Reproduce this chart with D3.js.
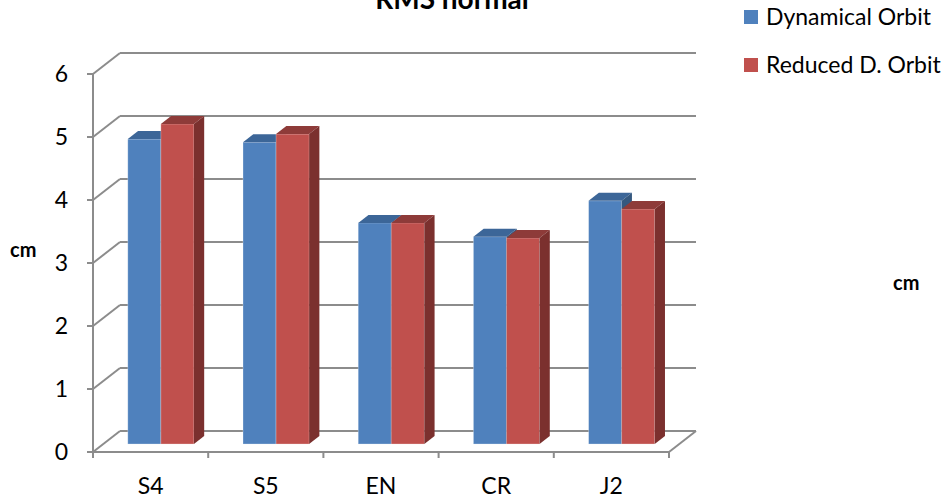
<!DOCTYPE html>
<html>
<head>
<meta charset="utf-8">
<script src="https://cdn.jsdelivr.net/npm/d3@7"></script>
<style>
  body { margin: 0; background: #fff; }
  svg text { font-family: Lato, "Open Sans", sans-serif; fill: #000; }
</style>
</head>
<body>
<svg id="chart" width="951" height="502"></svg>
<script>

// chart data
var categories = ["S4", "S5", "EN", "CR", "J2"];
var seriesNames = ["Dynamical Orbit", "Reduced D. Orbit"];
var dynamicalOrbit = [4.84, 4.79, 3.51, 3.29, 3.86];
var reducedOrbit = [5.08, 4.92, 3.51, 3.27, 3.73];
var yTicks = [0, 1, 2, 3, 4, 5, 6];

var seriesValues = [dynamicalOrbit, reducedOrbit];
var faceColors = [
    {front: "#4F81BD", top: "#3C6698", side: "#35587F"},
    {front: "#C0504D", top: "#8E3B39", side: "#7B302E"}
];

var svg = d3.select("#chart");

// plot box (front plane) and 3d depth vector
var plotLeft = 93, plotRight = 669, plotBottom = 452, plotTop = 74;
var depthX = 27, depthY = -21;
var barFront = 0.38, barBack = 0.76;   // fraction of depth taken by bars

var y = d3.scaleLinear().domain([0, 6]).range([plotBottom, plotTop]);
var x = d3.scaleBand().domain(categories).range([plotLeft, plotRight])
            .paddingInner(0.426).paddingOuter(0.213);
var xs = d3.scaleBand().domain(seriesNames).range([0, x.bandwidth()]);

var gridColor = "#8C8C8C";
var grid = svg.append("g").attr("stroke", gridColor).attr("stroke-width", 2).attr("fill", "none");

// back wall and side wall gridlines
yTicks.forEach(function(t) {
    grid.append("line")
        .attr("x1", plotLeft + depthX).attr("x2", plotRight + depthX)
        .attr("y1", y(t) + depthY).attr("y2", y(t) + depthY);
    grid.append("line")
        .attr("x1", plotLeft).attr("x2", plotLeft + depthX)
        .attr("y1", y(t)).attr("y2", y(t) + depthY);
});
// floor right edge
grid.append("line")
    .attr("x1", plotRight).attr("x2", plotRight + depthX)
    .attr("y1", y(0)).attr("y2", y(0) + depthY);

// bars
var fx = barFront * depthX, fy = barFront * depthY;
var dx = (barBack - barFront) * depthX, dy = (barBack - barFront) * depthY;

var bars = svg.append("g");
categories.forEach(function(c, i) {
    seriesNames.forEach(function(s, j) {
        var v = seriesValues[j][i];
        var x0 = x(c) + xs(s) + fx;
        var x1 = x0 + xs.bandwidth();
        var yb = y(0) + fy;
        var yt = y(v) + fy;
        var col = faceColors[j];
        var g = bars.append("g");
        g.append("rect")
            .attr("x", x0).attr("y", yt)
            .attr("width", x1 - x0).attr("height", yb - yt)
            .attr("fill", col.front)
            .attr("stroke", "rgba(255,255,255,0.35)").attr("stroke-width", 0.8);
        g.append("path")
            .attr("d", "M" + x0 + "," + yt + "L" + (x0 + dx) + "," + (yt + dy) +
                       "L" + (x1 + dx) + "," + (yt + dy) + "L" + x1 + "," + yt + "Z")
            .attr("fill", col.top);
        g.append("path")
            .attr("d", "M" + x1 + "," + yt + "L" + (x1 + dx) + "," + (yt + dy) +
                       "L" + (x1 + dx) + "," + (yb + dy) + "L" + x1 + "," + yb + "Z")
            .attr("fill", col.side);
    });
});

// front axes
var axes = svg.append("g").attr("stroke", gridColor).attr("stroke-width", 2);
axes.append("line").attr("x1", plotLeft).attr("x2", plotLeft).attr("y1", plotTop).attr("y2", plotBottom + 6);
axes.append("line").attr("x1", plotLeft).attr("x2", plotRight).attr("y1", plotBottom).attr("y2", plotBottom);
yTicks.forEach(function(t) {
    axes.append("line").attr("x1", plotLeft - 6).attr("x2", plotLeft).attr("y1", y(t)).attr("y2", y(t));
});
d3.range(categories.length + 1).forEach(function(k) {
    var xx = plotLeft + k * (plotRight - plotLeft) / categories.length;
    axes.append("line").attr("x1", xx).attr("x2", xx).attr("y1", plotBottom).attr("y2", plotBottom + 6);
});

// tick labels
svg.append("g").selectAll("text").data(yTicks).join("text")
    .attr("x", 68).attr("y", function(d) { return y(d) + 8; })
    .attr("text-anchor", "end").style("font-size", "23px")
    .text(function(d) { return d; });

svg.append("g").selectAll("text").data(categories).join("text")
    .attr("x", function(d) { return x(d) + x.bandwidth() / 2; })
    .attr("y", 494)
    .attr("text-anchor", "middle").style("font-size", "23px")
    .text(function(d) { return d; });

// axis titles
svg.append("text").attr("x", 10).attr("y", 257)
    .style("font-size", "20px").style("font-weight", "bold").text("cm");
svg.append("text").attr("x", 893).attr("y", 290)
    .style("font-size", "20px").style("font-weight", "bold").text("cm");

// chart title (cut off at the top, as in the original)
svg.append("text").attr("x", 452).attr("y", 9)
    .attr("text-anchor", "middle")
    .style("font-size", "28px").style("font-weight", "bold").text("RMS normal");

// legend
var legend = svg.append("g");
seriesNames.forEach(function(s, j) {
    legend.append("rect").attr("x", 744).attr("y", 10 + j * 48)
        .attr("width", 14).attr("height", 14).attr("fill", faceColors[j].front);
    legend.append("text").attr("x", 766).attr("y", 25 + j * 48)
        .style("font-size", "23px").text(s);
});

</script>
</body>
</html>
